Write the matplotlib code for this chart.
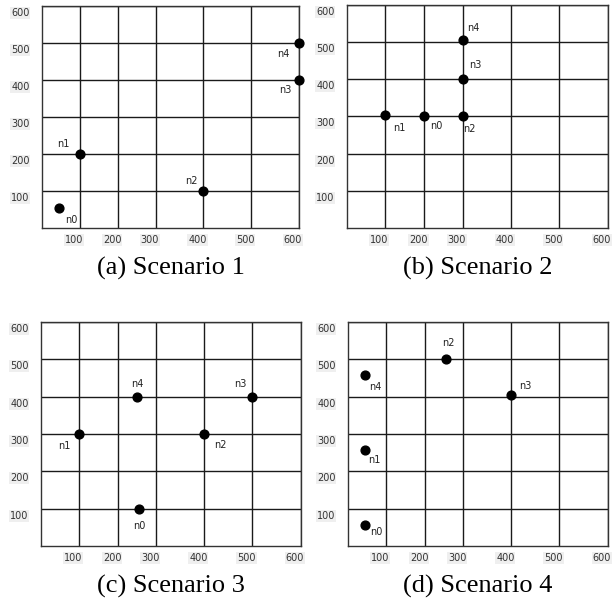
#!/usr/bin/env python3
"""Node placement for the four test scenarios on a 600 x 600 field."""

import matplotlib

matplotlib.use("Agg")

import matplotlib.pyplot as plt
import matplotlib.transforms as mtransforms
import numpy as np


# node positions per scenario (field units)
NODE_NAMES = ["n0", "n1", "n2", "n3", "n4"]

S1_X = [45, 100, 400, 600, 600]
S1_Y = [55, 200, 100, 400, 500]

S2_X = [200, 100, 300, 300, 300]
S2_Y = [300, 305, 300, 400, 505]

S3_X = [255, 100, 400, 500, 250]
S3_Y = [100, 300, 300, 400, 400]

S4_X = [45, 45, 255, 400, 45]
S4_Y = [55, 257, 500, 405, 458]

CAPTIONS = ["(a) Scenario 1", "(b) Scenario 2", "(c) Scenario 3", "(d) Scenario 4"]
TICKS = [100, 200, 300, 400, 500, 600]

# label placement around each dot, in pixels (up is positive)
LABEL_OFFSETS = [
    [(12, -12), (-16, 10), (-12, 10), (-14, -10), (-16, -11)],
    [(12, -10), (14, -13), (7, -13), (13, 14), (11, 12)],
    [(0, -17), (-15, -12), (16, -11), (-12, 13), (0, 13)],
    [(11, -7), (9, -10), (2, 16), (14, 9), (10, -12)],
]

# the simulator draws wider columns on the right half of the field
GRID_X = [0, 100, 200, 300, 400, 500, 600]
SCREEN_X = [0, 88, 178, 266, 377, 488, 600]


def fwd(x):
    return np.interp(x, GRID_X, SCREEN_X)


def inv(x):
    return np.interp(x, SCREEN_X, GRID_X)


def draw_field(fig, ax, xs, ys, offsets, caption):
    ax.set_xscale("function", functions=(fwd, inv))
    ax.set_xlim(0, 600)
    ax.set_ylim(0, 600)
    ax.set_xticks(TICKS)
    ax.set_yticks(TICKS)
    ax.set_xticklabels([str(t) for t in TICKS])
    ax.set_yticklabels([str(t) for t in TICKS])
    ax.tick_params(length=0, labelsize=7, labelcolor="#333333")
    ax.tick_params(axis="x", pad=5)
    ax.tick_params(axis="y", pad=9)
    ax.grid(True, color="#1a1a1a", linewidth=1.0)
    ax.set_axisbelow(True)
    for spine in ax.spines.values():
        spine.set_color("#333333")
        spine.set_linewidth(1.0)

    shift_x = mtransforms.ScaledTranslation(-0.06, 0, fig.dpi_scale_trans)
    shift_y = mtransforms.ScaledTranslation(0, -0.06, fig.dpi_scale_trans)
    for lab in ax.get_xticklabels():
        lab.set_transform(lab.get_transform() + shift_x)
        lab.set_bbox(dict(facecolor="#efefef", edgecolor="none", pad=0.6))
    for lab in ax.get_yticklabels():
        lab.set_transform(lab.get_transform() + shift_y)
        lab.set_bbox(dict(facecolor="#efefef", edgecolor="none", pad=0.6))

    ax.scatter(xs, ys, s=40, color="black", zorder=3, clip_on=False)
    for name, x, y, off in zip(NODE_NAMES, xs, ys, offsets):
        ax.annotate(name, (x, y), xytext=off, textcoords="offset pixels",
                    ha="center", va="center", fontsize=7, color="#222222")

    pos = ax.get_position()
    fig.text((pos.x0 + pos.x1) / 2, pos.y0 - 0.068, caption,
             ha="center", va="center", fontsize=19, family="Liberation Serif")


def main() -> None:
    fig = plt.figure(figsize=(6.13, 6.02), dpi=100)
    boxes = [
        [0.0685, 0.6213, 0.4192, 0.3688],
        [0.5661, 0.6213, 0.4258, 0.3704],
        [0.0669, 0.0930, 0.4241, 0.3721],
        [0.5677, 0.0930, 0.4241, 0.3721],
    ]
    scenarios = [(S1_X, S1_Y), (S2_X, S2_Y), (S3_X, S3_Y), (S4_X, S4_Y)]
    for box, (xs, ys), offsets, caption in zip(boxes, scenarios, LABEL_OFFSETS, CAPTIONS):
        ax = fig.add_axes(box)
        draw_field(fig, ax, xs, ys, offsets, caption)

    fig.savefig("out.png", dpi=100)
    plt.close(fig)


if __name__ == "__main__":
    main()
